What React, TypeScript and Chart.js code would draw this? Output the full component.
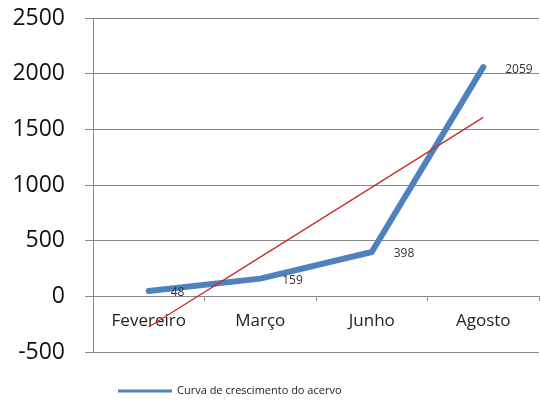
import React, { useEffect, useRef } from "react";
import { Chart, registerables } from "chart.js";

Chart.register(...registerables);

const categories = ["Fevereiro", "Março", "Junho", "Agosto"];
const acervo = [48, 159, 398, 2059];
const trend = [-275, 352, 979, 1607];
const seriesLabel = "Curva de crescimento do acervo";
const yTicks = { min: -500, max: 2500, step: 500 };

const FONT = "'Open Sans', sans-serif";

const dataLabels = {
  id: "dataLabels",
  afterDatasetsDraw(chart: any) {
    const meta = chart.getDatasetMeta(0);
    const ctx = chart.ctx;
    ctx.save();
    ctx.font = `12px ${FONT}`;
    ctx.fillStyle = "#333";
    ctx.textAlign = "left";
    ctx.textBaseline = "middle";
    meta.data.forEach((pt: any, i: number) => {
      ctx.fillText(String(acervo[i]), pt.x + 22, pt.y + 2);
    });
    ctx.restore();
  },
};

const customLegend = {
  id: "customLegend",
  afterDraw(chart: any) {
    const ctx = chart.ctx;
    const ds = chart.data.datasets[0];
    ctx.save();
    ctx.strokeStyle = ds.borderColor;
    ctx.lineWidth = 3;
    ctx.beginPath();
    ctx.moveTo(118, 391);
    ctx.lineTo(172, 391);
    ctx.stroke();
    ctx.font = `11px ${FONT}`;
    ctx.fillStyle = "#222";
    ctx.textBaseline = "middle";
    ctx.textAlign = "left";
    ctx.fillText(ds.label, 177, 391);
    ctx.restore();
  },
};

export default function App() {
  const ref = useRef<HTMLCanvasElement>(null);
  useEffect(() => {
    if (!ref.current) return;
    const chart = new Chart(ref.current, {
      type: "line",
      data: {
        labels: categories,
        datasets: [
          {
            label: seriesLabel,
            data: acervo,
            borderColor: "#4F81BD",
            backgroundColor: "#4F81BD",
            borderWidth: 6,
            borderCapStyle: "round",
            borderJoinStyle: "round",
            pointRadius: 0,
            tension: 0,
            order: 1,
          },
          {
            label: "Tendência",
            data: trend,
            borderColor: "#CC2B2B",
            backgroundColor: "#CC2B2B",
            borderWidth: 1.3,
            pointRadius: 0,
            tension: 0,
            order: 0,
          },
        ],
      },
      options: {
        animation: false,
        responsive: false,
        maintainAspectRatio: false,
        layout: { padding: { top: 18, right: 1, bottom: 49, left: 0 } },
        plugins: {
          legend: { display: false },
          tooltip: { enabled: false },
        },
        scales: {
          x: {
            type: "category",
            position: { y: 0 } as any,
            offset: true,
            grid: {
              offset: true,
              drawOnChartArea: false,
              tickLength: 5,
              color: "#8a8a8a",
            },
            border: { display: false },
            ticks: {
              font: { family: FONT, size: 17 },
              color: "#222",
              padding: 10,
              maxRotation: 0,
            },
            afterFit(scale: any) {
              scale.paddingLeft = 0;
              scale.paddingRight = 0;
            },
          },
          y: {
            min: yTicks.min,
            max: yTicks.max,
            ticks: {
              stepSize: yTicks.step,
              font: { family: FONT, size: 23 },
              color: "#111",
              padding: 20,
              callback: (v: any) => String(v),
            },
            grid: { color: "#8a8a8a", tickLength: 8 },
            border: { display: true, color: "#8a8a8a" },
            afterFit(scale: any) {
              scale.width = 93;
              scale.paddingTop = 0;
              scale.paddingBottom = 0;
            },
          },
        },
      },
      plugins: [dataLabels, customLegend],
    });
    return () => chart.destroy();
  }, []);
  return (
    <div style={{ position: "absolute", left: 0, top: 0, width: 540, height: 401 }}>
      <canvas ref={ref} width={540} height={401} style={{ width: 540, height: 401 }} />
    </div>
  );
}
